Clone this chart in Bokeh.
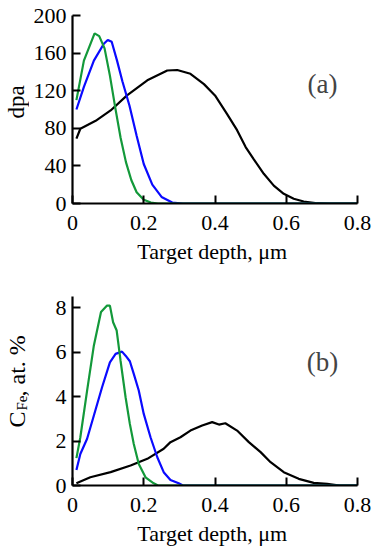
import math
from bokeh.plotting import figure
from bokeh.models import Range1d, FixedTicker, Label
from bokeh.layouts import column, row
from bokeh.core.properties import value
from bokeh.embed import file_html
from bokeh.resources import INLINE

# ---------------- data ----------------
# panel (a): dpa vs depth (um)
a_black_x = [0.011, 0.022, 0.065, 0.107, 0.153, 0.21, 0.266, 0.294, 0.331, 0.369, 0.4, 0.434,
             0.462, 0.486, 0.509, 0.537, 0.565, 0.593, 0.621, 0.649, 0.687, 0.72, 0.8]
a_black_y = [69, 79.5, 88, 99, 115, 131, 141.5, 142, 138, 127, 115, 95,
             78, 60, 47, 31.6, 19, 10.3, 5, 2.1, 0.3, 0, 0]
a_blue_x = [0.011, 0.032, 0.06, 0.088, 0.099, 0.11, 0.125, 0.14, 0.16, 0.18, 0.2, 0.224, 0.25,
            0.28, 0.31, 0.8]
a_blue_y = [100, 124, 152, 170, 174, 172, 152, 130, 104, 72, 42, 20, 7,
            1, 0, 0]
a_green_x = [0.011, 0.032, 0.062, 0.075, 0.09, 0.105, 0.12, 0.135, 0.15, 0.165, 0.18, 0.2, 0.22,
             0.24, 0.8]
a_green_y = [110, 152, 181, 178, 165, 136, 102, 70, 44, 25, 12, 4, 1,
             0, 0]

# panel (b): C_Fe, at.% vs depth (um)
b_black_x = [0.011, 0.05, 0.107, 0.163, 0.21, 0.256, 0.275, 0.303, 0.331, 0.364, 0.392, 0.411,
             0.429, 0.462, 0.495, 0.528, 0.556, 0.593, 0.635, 0.677, 0.715, 0.75, 0.8]
b_black_y = [0.1, 0.37, 0.6, 0.9, 1.2, 1.65, 1.95, 2.17, 2.47, 2.7, 2.85, 2.74,
             2.8, 2.47, 1.95, 1.5, 1.05, 0.6, 0.3, 0.12, 0.07, 0, 0]
b_blue_x = [0.011, 0.022, 0.041, 0.06, 0.083, 0.105, 0.121, 0.139, 0.149, 0.161, 0.172, 0.186,
            0.2, 0.219, 0.238, 0.256, 0.275, 0.298, 0.31, 0.8]
b_blue_y = [0.7, 1.42, 2.1, 3.15, 4.42, 5.54, 5.92, 6.02, 5.84, 5.59, 5.02, 4.27,
            3.22, 2.17, 1.27, 0.6, 0.25, 0.1, 0, 0]
b_green_x = [0.011, 0.022, 0.041, 0.06, 0.08, 0.097, 0.105, 0.114, 0.124, 0.135, 0.149, 0.161,
             0.172, 0.186, 0.205, 0.228, 0.24, 0.8]
b_green_y = [1.23, 2.17, 4.27, 6.3, 7.8, 8.09, 8.09, 7.34, 6.97, 5.6, 3.97, 2.77,
             1.87, 0.97, 0.37, 0.1, 0, 0]

x_ticks = [0, 0.2, 0.4, 0.6, 0.8]
x_tick_labels = ["0", "0.2", "0.4", "0.6", "0.8"]
a_y_ticks = [0, 40, 80, 120, 160, 200]
b_y_ticks = [0, 2, 4, 6, 8]
x_title = "Target depth,  \u03bcm"
a_title = "dpa"
b_title_main, b_title_sub, b_title_rest = "C", "Fe", ", at.\u00a0%"

FONT = "Liberation Serif"
BLACK = "#000000"
BLUE = "#0a0aff"
GREEN = "#13993a"

LABEL_W = 29
MAIN_W = 378 - LABEL_W


def make_fig(ymax, yticks, height, top, bottom):
    p = figure(width=MAIN_W, height=height, x_range=Range1d(0, 0.8), y_range=Range1d(0, ymax),
               output_backend="svg", toolbar_location=None,
               min_border_left=72 - LABEL_W, min_border_right=21,
               min_border_top=top, min_border_bottom=bottom)
    p.outline_line_color = None
    p.grid.visible = False
    p.axis.axis_line_width = 2.2
    p.axis.axis_line_color = "black"
    p.axis.major_tick_line_width = 2
    p.axis.major_tick_in = 8
    p.axis.major_tick_out = 0
    p.axis.minor_tick_line_color = None
    p.axis.major_label_text_font = FONT
    p.axis.major_label_text_font_size = "22px"
    p.axis.major_label_text_color = "black"
    p.xaxis.ticker = FixedTicker(ticks=x_ticks)
    p.xaxis.major_label_overrides = {t: l for t, l in zip(x_ticks, x_tick_labels)}
    p.yaxis.ticker = FixedTicker(ticks=yticks)
    p.yaxis.major_label_overrides = {t: str(t) for t in yticks}
    p.xaxis.major_label_standoff = 12
    p.yaxis.major_label_standoff = 6
    p.xaxis.axis_label = x_title
    p.xaxis.axis_label_text_font = FONT
    p.xaxis.axis_label_text_font_style = "normal"
    p.xaxis.axis_label_text_font_size = "22px"
    p.xaxis.axis_label_text_color = "black"
    p.xaxis.axis_label_standoff = 6
    return p


p1 = make_fig(200, a_y_ticks, 276, 15, 73)
p1.line(a_black_x, a_black_y, line_color=BLACK, line_width=2.2)
p1.line(a_blue_x, a_blue_y, line_color=BLUE, line_width=2.2)
p1.line(a_green_x, a_green_y, line_color=GREEN, line_width=2.2)
p1.add_layout(Label(x=0.702, y=127, text="(a)", text_align="center", text_baseline="middle",
                    text_font=FONT, text_font_size="27px"))

p2 = make_fig(8.5, b_y_ticks, 274, 20, 65)
p2.line(b_black_x, b_black_y, line_color=BLACK, line_width=2.2)
p2.line(b_blue_x, b_blue_y, line_color=BLUE, line_width=2.2)
p2.line(b_green_x, b_green_y, line_color=GREEN, line_width=2.2)
p2.add_layout(Label(x=0.702, y=5.57, text="(b)", text_align="center", text_baseline="middle",
                    text_font=FONT, text_font_size="27px"))

# narrow strip holding the rotated y-axis titles (coordinates = pixels, y measured from bottom)
lab = figure(width=LABEL_W, height=550, x_range=Range1d(0, LABEL_W), y_range=Range1d(0, 550),
             output_backend="svg", toolbar_location=None, x_axis_type=None, y_axis_type=None,
             min_border=0)
lab.outline_line_color = None
lab.grid.visible = False
ang = math.pi / 2
lab.text(x=[16], y=[550 - 101.5], text=[a_title], angle=ang, text_align="center",
         text_baseline="alphabetic", text_font=value(FONT), text_font_size=value("23px"),
         text_color="black")
lab.text(x=[16.5], y=[550 - 427], text=[b_title_main], angle=ang, text_align="left",
         text_baseline="alphabetic", text_font=value(FONT), text_font_size=value("24px"),
         text_color="black")
lab.text(x=[21], y=[550 - 410], text=[b_title_sub], angle=ang, text_align="left",
         text_baseline="alphabetic", text_font=value(FONT), text_font_size=value("15px"),
         text_color="black")
lab.text(x=[16.5], y=[550 - 396], text=[b_title_rest], angle=ang, text_align="left",
         text_baseline="alphabetic", text_font=value(FONT), text_font_size=value("24px"),
         text_color="black")

layout = row(lab, column(p1, p2, spacing=0), spacing=0)
open("out.html", "w").write(file_html(layout, INLINE))
